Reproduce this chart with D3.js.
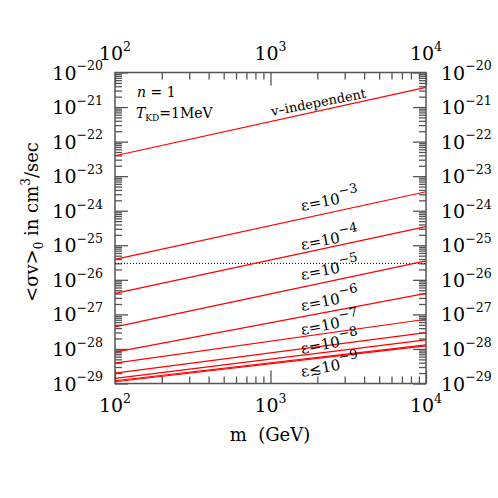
<!DOCTYPE html>
<html>
<head>
<meta charset="utf-8">
<script src="https://cdn.jsdelivr.net/npm/d3@7"></script>
<style>
  body { margin: 0; background: #fff; }
  svg { display: block; }
  text { font-family: "DejaVu Serif", serif; fill: #000; }
</style>
</head>
<body>
<svg width="498" height="498"></svg>
<script>
// masses at which each curve is read (GeV)
const masses = [100, 10000];
// log10 of <sigma v>_0 at the two masses
const curveNames = ["v-independent", "eps1e-3", "eps1e-4", "eps1e-5", "eps1e-6", "eps1e-7", "eps1e-8", "eps1e-9", "eps1e-10", "eps1e-11"];
const curveLogLow  = [-22.41, -25.41, -26.39, -27.36, -28.09, -28.41, -28.70, -28.85, -28.92, -28.95];
const curveLogHigh = [-20.43, -23.45, -24.46, -25.45, -26.39, -27.14, -27.53, -27.74, -27.88, -27.91];
// thermal relic reference value (dotted line)
const relicValue = 3e-26;

const xTickExps = [2, 3, 4];
const yTickExps = [-20, -21, -22, -23, -24, -25, -26, -27, -28, -29];

const labelTexts = [
    {main: "v\u2013independent", sup: ""},
    {main: "\u03b5=10", sup: "\u22123"},
    {main: "\u03b5=10", sup: "\u22124"},
    {main: "\u03b5=10", sup: "\u22125"},
    {main: "\u03b5=10", sup: "\u22126"},
    {main: "\u03b5=10", sup: "\u22127"},
    {main: "\u03b5=10", sup: "\u22128"},
    {main: "\u03b5\u227210", sup: "\u22129"}
];
const labelSpots = [[272, 116], [302, 211], [302, 250], [302, 280], [302, 311], [302, 335], [302, 354], [302, 377]];

const svg = d3.select("svg");
const plotL = 115, plotR = 426, plotT = 72.5, plotB = 383.5;

let x = d3.scaleLog().domain([1e2, 1e4]).range([plotL, plotR]);
let y = d3.scaleLog().domain([1e-29, 1e-20]).range([plotB, plotT]);

const tickColor = "#555";

function minorTicks(scale) {
    return scale.ticks().filter(function(d) {
        let e = Math.log10(d);
        return Math.abs(e - Math.round(e)) > 1e-6;
    });
}
let xMajor = xTickExps.map(e => Math.pow(10, e));
let yMajor = yTickExps.map(e => Math.pow(10, e));

// ticks on all four sides, pointing in
function addAxis(gen, tx, ty, vals, size) {
    let g = svg.append("g")
        .attr("class", "axis")
        .attr("transform", `translate(${tx},${ty})`)
        .call(gen.tickValues(vals).tickSizeInner(size).tickSizeOuter(0).tickFormat(""));
    g.select(".domain").remove();
    g.selectAll("line").attr("stroke", tickColor).attr("stroke-width", 1.3);
}
addAxis(d3.axisBottom(x), 0, plotB, xMajor, -13);
addAxis(d3.axisBottom(x), 0, plotB, minorTicks(x), -7);
addAxis(d3.axisTop(x), 0, plotT, xMajor, -13);
addAxis(d3.axisTop(x), 0, plotT, minorTicks(x), -7);
addAxis(d3.axisLeft(y), plotL, 0, yMajor, -13);
addAxis(d3.axisLeft(y), plotL, 0, minorTicks(y), -7);
addAxis(d3.axisRight(y), plotR, 0, yMajor, -13);
addAxis(d3.axisRight(y), plotR, 0, minorTicks(y), -7);

svg.append("rect")
    .attr("x", plotL).attr("y", plotT)
    .attr("width", plotR - plotL).attr("height", plotB - plotT)
    .attr("fill", "none")
    .attr("stroke", tickColor)
    .attr("stroke-width", 1.5);

// relic line
svg.append("line")
    .attr("x1", x(1e2)).attr("x2", x(1e4))
    .attr("y1", y(relicValue)).attr("y2", y(relicValue))
    .attr("stroke", "#000")
    .attr("stroke-width", 1)
    .attr("stroke-dasharray", "1,2");

// curves
let line = d3.line()
    .x(function(d) { return x(d.m); })
    .y(function(d) { return y(d.v); });

curveNames.forEach(function(name, i) {
    let pts = masses.map(function(m, j) {
        return {m: m, v: Math.pow(10, j === 0 ? curveLogLow[i] : curveLogHigh[i])};
    });
    svg.append("path")
        .datum(pts)
        .attr("class", "curve " + name)
        .attr("d", line)
        .attr("fill", "none")
        .attr("stroke", "#ff0000")
        .attr("stroke-width", 1.2);
});

// power-of-ten labels
function powerLabel(px, py, exp, anchor, size) {
    let t = svg.append("text")
        .attr("x", px).attr("y", py)
        .attr("text-anchor", anchor)
        .attr("font-size", size + "px");
    t.append("tspan").text("10");
    t.append("tspan")
        .attr("dy", -size * 0.48)
        .attr("font-size", (size * 0.66) + "px")
        .text(exp < 0 ? "\u2212" + (-exp) : exp);
    return t;
}
xTickExps.forEach(function(e) {
    powerLabel(x(Math.pow(10, e)), 412, e, "middle", 19);
    powerLabel(x(Math.pow(10, e)), 60, e, "middle", 19);
});
yTickExps.forEach(function(e) {
    powerLabel(plotL - 12, y(Math.pow(10, e)) + 7, e, "end", 19);
    powerLabel(plotR + 15, y(Math.pow(10, e)) + 7, e, "start", 19);
});

// axis titles
let xt = svg.append("text")
    .attr("x", 270).attr("y", 441)
    .attr("text-anchor", "middle")
    .attr("font-size", "18px")
    .attr("xml:space", "preserve")
    .text("m  (GeV)");

let yt = svg.append("text")
    .attr("transform", "translate(38,222) rotate(-90)")
    .attr("text-anchor", "middle")
    .attr("font-size", "18px");
yt.append("tspan").text("<\u03c3v>");
yt.append("tspan").attr("font-size", "12px").attr("dy", 5).text("0");
yt.append("tspan").attr("dy", -5).text(" in cm");
yt.append("tspan").attr("font-size", "12px").attr("dy", -8).text("3");
yt.append("tspan").attr("dy", 8).text("/sec");

// in-plot notes
let n1 = svg.append("text").attr("x", 137).attr("y", 97).attr("font-size", "14px");
n1.append("tspan").attr("font-style", "italic").text("n");
n1.append("tspan").text(" = 1");

let tk = svg.append("text").attr("x", 136).attr("y", 118).attr("font-size", "14px");
tk.append("tspan").attr("font-style", "italic").text("T");
tk.append("tspan").attr("font-size", "9px").attr("dy", 3).text("KD");
tk.append("tspan").attr("dy", -3).text("=1MeV");

// curve labels, tilted along the lines
labelTexts.forEach(function(d, i) {
    let p = labelSpots[i];
    let t = svg.append("text")
        .attr("transform", `translate(${p[0]},${p[1]}) rotate(-11)`)
        .attr("font-size", i === 0 ? "13px" : "15px");
    t.append("tspan").text(d.main);
    if (d.sup) {
        t.append("tspan").attr("dy", -8).attr("font-size", "13px").text(d.sup);
    }
});
</script>
</body>
</html>
